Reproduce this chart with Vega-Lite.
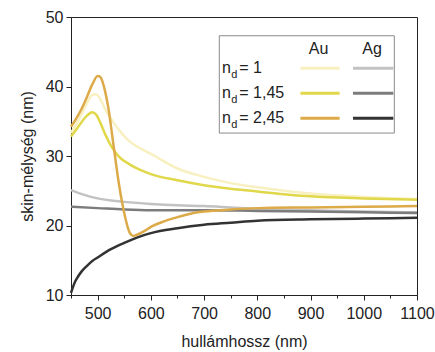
{
  "$schema": "https://vega.github.io/schema/vega-lite/v6.json",
  "autosize": {"type": "none"},
  "padding": {"left": 71, "top": 17, "right": 18, "bottom": 57},
  "width": 346,
  "height": 278,
  "config": {
    "view": {"stroke": "#222", "strokeWidth": 1},
    "font": "Liberation Sans",
    "axis": {
      "domainColor": "#222",
      "tickColor": "#222",
      "labelColor": "#222",
      "titleColor": "#222",
      "labelFont": "Liberation Sans",
      "titleFont": "Liberation Sans",
      "labelFontSize": 16,
      "titleFontSize": 16,
      "titleFontWeight": "normal",
      "grid": false,
      "labelFlush": false,
      "labelOverlap": false
    }
  },
  "resolve": {"axis": {"x": "independent"}},
  "datasets": {
    "curves": [
      {"s": "Ag1", "x": 450, "y": 25.1}, {"s": "Ag1", "x": 475, "y": 24.4}, {"s": "Ag1", "x": 500, "y": 23.9}, {"s": "Ag1", "x": 525, "y": 23.6}, {"s": "Ag1", "x": 550, "y": 23.4}, {"s": "Ag1", "x": 600, "y": 23.1}, {"s": "Ag1", "x": 650, "y": 22.9}, {"s": "Ag1", "x": 700, "y": 22.8}, {"s": "Ag1", "x": 750, "y": 22.6}, {"s": "Ag1", "x": 800, "y": 22.4}, {"s": "Ag1", "x": 900, "y": 22.2}, {"s": "Ag1", "x": 1000, "y": 22.0}, {"s": "Ag1", "x": 1100, "y": 21.9},
      {"s": "Ag145", "x": 450, "y": 22.7}, {"s": "Ag145", "x": 500, "y": 22.5}, {"s": "Ag145", "x": 550, "y": 22.3}, {"s": "Ag145", "x": 600, "y": 22.2}, {"s": "Ag145", "x": 700, "y": 22.2}, {"s": "Ag145", "x": 800, "y": 22.1}, {"s": "Ag145", "x": 900, "y": 22.0}, {"s": "Ag145", "x": 1000, "y": 21.9}, {"s": "Ag145", "x": 1100, "y": 21.8},
      {"s": "Ag245", "x": 450, "y": 10.3}, {"s": "Ag245", "x": 453, "y": 11.0}, {"s": "Ag245", "x": 457, "y": 11.8}, {"s": "Ag245", "x": 462, "y": 12.5}, {"s": "Ag245", "x": 470, "y": 13.4}, {"s": "Ag245", "x": 480, "y": 14.2}, {"s": "Ag245", "x": 490, "y": 14.9}, {"s": "Ag245", "x": 500, "y": 15.4}, {"s": "Ag245", "x": 525, "y": 16.6}, {"s": "Ag245", "x": 550, "y": 17.5}, {"s": "Ag245", "x": 575, "y": 18.3}, {"s": "Ag245", "x": 600, "y": 18.9}, {"s": "Ag245", "x": 650, "y": 19.6}, {"s": "Ag245", "x": 700, "y": 20.1}, {"s": "Ag245", "x": 750, "y": 20.4}, {"s": "Ag245", "x": 800, "y": 20.7}, {"s": "Ag245", "x": 900, "y": 20.9}, {"s": "Ag245", "x": 1000, "y": 21.0}, {"s": "Ag245", "x": 1100, "y": 21.1},
      {"s": "Au1", "x": 450, "y": 33.3}, {"s": "Au1", "x": 460, "y": 34.6}, {"s": "Au1", "x": 470, "y": 36.0}, {"s": "Au1", "x": 480, "y": 37.6}, {"s": "Au1", "x": 490, "y": 38.8}, {"s": "Au1", "x": 497, "y": 38.9}, {"s": "Au1", "x": 505, "y": 38.2}, {"s": "Au1", "x": 515, "y": 36.6}, {"s": "Au1", "x": 530, "y": 34.8}, {"s": "Au1", "x": 545, "y": 33.3}, {"s": "Au1", "x": 560, "y": 32.1}, {"s": "Au1", "x": 580, "y": 31.1}, {"s": "Au1", "x": 600, "y": 30.3}, {"s": "Au1", "x": 650, "y": 28.2}, {"s": "Au1", "x": 700, "y": 27.0}, {"s": "Au1", "x": 750, "y": 26.1}, {"s": "Au1", "x": 800, "y": 25.5}, {"s": "Au1", "x": 850, "y": 25.0}, {"s": "Au1", "x": 900, "y": 24.6}, {"s": "Au1", "x": 1000, "y": 24.1}, {"s": "Au1", "x": 1100, "y": 23.8},
      {"s": "Au145", "x": 450, "y": 32.8}, {"s": "Au145", "x": 460, "y": 33.8}, {"s": "Au145", "x": 470, "y": 34.9}, {"s": "Au145", "x": 480, "y": 35.8}, {"s": "Au145", "x": 490, "y": 36.3}, {"s": "Au145", "x": 497, "y": 36.0}, {"s": "Au145", "x": 505, "y": 34.8}, {"s": "Au145", "x": 515, "y": 33.0}, {"s": "Au145", "x": 525, "y": 31.5}, {"s": "Au145", "x": 540, "y": 29.9}, {"s": "Au145", "x": 560, "y": 28.8}, {"s": "Au145", "x": 580, "y": 28.0}, {"s": "Au145", "x": 600, "y": 27.4}, {"s": "Au145", "x": 650, "y": 26.5}, {"s": "Au145", "x": 700, "y": 25.8}, {"s": "Au145", "x": 750, "y": 25.3}, {"s": "Au145", "x": 800, "y": 24.9}, {"s": "Au145", "x": 850, "y": 24.5}, {"s": "Au145", "x": 900, "y": 24.2}, {"s": "Au145", "x": 1000, "y": 23.9}, {"s": "Au145", "x": 1100, "y": 23.7},
      {"s": "Au245", "x": 450, "y": 34.2}, {"s": "Au245", "x": 460, "y": 35.4}, {"s": "Au245", "x": 470, "y": 36.8}, {"s": "Au245", "x": 480, "y": 38.5}, {"s": "Au245", "x": 490, "y": 40.3}, {"s": "Au245", "x": 500, "y": 41.5}, {"s": "Au245", "x": 505, "y": 41.4}, {"s": "Au245", "x": 510, "y": 40.5}, {"s": "Au245", "x": 520, "y": 37.0}, {"s": "Au245", "x": 530, "y": 31.5}, {"s": "Au245", "x": 540, "y": 26.0}, {"s": "Au245", "x": 550, "y": 21.8}, {"s": "Au245", "x": 560, "y": 19.0}, {"s": "Au245", "x": 567, "y": 18.5}, {"s": "Au245", "x": 575, "y": 18.7}, {"s": "Au245", "x": 590, "y": 19.3}, {"s": "Au245", "x": 600, "y": 19.8}, {"s": "Au245", "x": 625, "y": 20.6}, {"s": "Au245", "x": 650, "y": 21.2}, {"s": "Au245", "x": 675, "y": 21.7}, {"s": "Au245", "x": 700, "y": 22.0}, {"s": "Au245", "x": 750, "y": 22.3}, {"s": "Au245", "x": 800, "y": 22.5}, {"s": "Au245", "x": 900, "y": 22.6}, {"s": "Au245", "x": 1000, "y": 22.7}, {"s": "Au245", "x": 1100, "y": 22.8}
    ],
    "legendRows": [
      {"label": "= 1", "y": 41.9},
      {"label": "= 1,45", "y": 38.32},
      {"label": "= 2,45", "y": 34.74}
    ],
    "legendLines": [
      {"s": "Au1", "x": 881, "x2": 954.6, "y": 42.62},
      {"s": "Au145", "x": 881, "x2": 954.6, "y": 39.02},
      {"s": "Au245", "x": 881, "x2": 954.6, "y": 35.42},
      {"s": "Ag1", "x": 979.8, "x2": 1055.5, "y": 42.62},
      {"s": "Ag145", "x": 979.8, "x2": 1055.5, "y": 39.02},
      {"s": "Ag245", "x": 979.8, "x2": 1055.5, "y": 35.42}
    ],
    "legendHead": [
      {"t": "Au", "x": 915.2, "y": 44.63},
      {"t": "Ag", "x": 1015.5, "y": 44.63}
    ],
    "legendBox": [
      {"x": 728.6, "x2": 1057.4, "y": 47.3, "y2": 33.3}
    ]
  },
  "layer": [
    {
      "data": {"name": "curves"},
      "mark": {"type": "line", "strokeWidth": 2.5, "interpolate": "monotone"},
      "encoding": {
        "x": {
          "field": "x", "type": "quantitative",
          "scale": {"domain": [450, 1100], "nice": false, "zero": false},
          "axis": {
            "title": "hullámhossz (nm)",
            "values": [500, 600, 700, 800, 900, 1000, 1100],
            "format": "d",
            "tickSize": 5,
            "labelPadding": 5,
            "titlePadding": 12
          }
        },
        "y": {
          "field": "y", "type": "quantitative",
          "scale": {"domain": [10, 50], "nice": false, "zero": false},
          "axis": {
            "title": "skin-mélység (nm)",
            "values": [10, 12.5, 15, 17.5, 20, 22.5, 25, 27.5, 30, 32.5, 35, 37.5, 40, 42.5, 45, 47.5, 50],
            "labelExpr": "datum.value % 5 === 0 ? datum.label : ''",
            "tickSize": {"condition": {"test": "datum.value % 5 === 0", "value": 5}, "value": 3},
            "labelPadding": 3,
            "titlePadding": 10
          }
        },
        "color": {
          "field": "s", "type": "nominal",
          "scale": {
            "domain": ["Ag1", "Ag145", "Ag245", "Au1", "Au145", "Au245"],
            "range": ["#c2c2c2", "#7c7c7c", "#333333", "#f8f0c0", "#e0d84a", "#dcaa48"]
          },
          "legend": null
        }
      }
    },
    {
      "data": {"name": "legendBox"},
      "mark": {"type": "rect", "fill": "white", "stroke": "#8a8a8a", "strokeWidth": 1},
      "encoding": {
        "x": {
          "field": "x", "type": "quantitative",
          "axis": {
            "title": null,
            "values": [450, 550, 650, 750, 850, 950, 1050],
            "tickSize": 3,
            "labels": false,
            "domain": false,
            "orient": "bottom"
          }
        },
        "x2": {"field": "x2"},
        "y": {"field": "y", "type": "quantitative"},
        "y2": {"field": "y2"}
      }
    },
    {
      "data": {"name": "legendLines"},
      "mark": {"type": "rule", "strokeWidth": 3},
      "encoding": {
        "x": {"field": "x", "type": "quantitative", "axis": null},
        "x2": {"field": "x2"},
        "y": {"field": "y", "type": "quantitative"},
        "color": {"field": "s", "type": "nominal"}
      }
    },
    {
      "data": {"name": "legendHead"},
      "mark": {"type": "text", "fontSize": 16, "font": "Liberation Sans", "color": "#222", "align": "center", "baseline": "alphabetic"},
      "encoding": {
        "x": {"field": "x", "type": "quantitative", "axis": null},
        "y": {"field": "y", "type": "quantitative"},
        "text": {"field": "t"}
      }
    },
    {
      "data": {"name": "legendRows"},
      "mark": {"type": "text", "fontSize": 16, "font": "Liberation Sans", "color": "#222", "align": "left", "baseline": "alphabetic", "text": "n"},
      "encoding": {
        "x": {"datum": 733.5, "type": "quantitative", "axis": null},
        "y": {"field": "y", "type": "quantitative"}
      }
    },
    {
      "data": {"name": "legendRows"},
      "mark": {"type": "text", "fontSize": 11, "font": "Liberation Sans", "color": "#222", "align": "left", "baseline": "alphabetic", "text": "d", "dy": 5},
      "encoding": {
        "x": {"datum": 751.2, "type": "quantitative", "axis": null},
        "y": {"field": "y", "type": "quantitative"}
      }
    },
    {
      "data": {"name": "legendRows"},
      "mark": {"type": "text", "fontSize": 16, "font": "Liberation Sans", "color": "#222", "align": "left", "baseline": "alphabetic"},
      "encoding": {
        "x": {"datum": 766.2, "type": "quantitative", "axis": null},
        "y": {"field": "y", "type": "quantitative"},
        "text": {"field": "label"}
      }
    }
  ]
}
